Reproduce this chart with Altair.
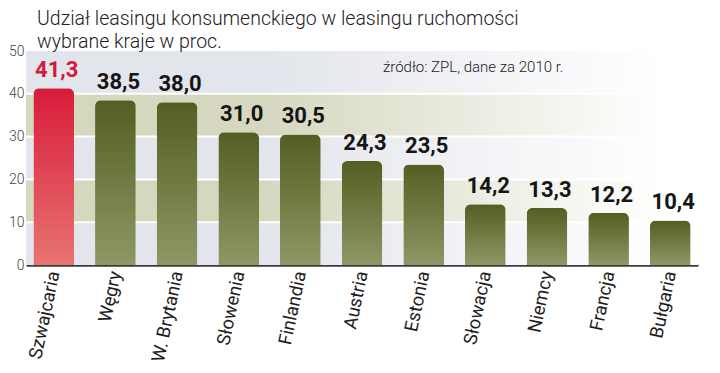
import altair as alt
import pandas as pd

categories = ["Szwajcaria", "Węgry", "W. Brytania", "Słowenia", "Finlandia", "Austria",
              "Estonia", "Słowacja", "Niemcy", "Francja", "Bułgaria"]
values = [41.3, 38.5, 38.0, 31.0, 30.5, 24.3, 23.5, 14.2, 13.3, 12.2, 10.4]
value_labels = ["41,3", "38,5", "38,0", "31,0", "30,5", "24,3", "23,5", "14,2", "13,3", "12,2", "10,4"]
highlight = [True, False, False, False, False, False, False, False, False, False, False]

band_starts_grey = [0, 20, 40]
band_starts_beige = [10, 30]
grid_values = [10, 20, 30, 40]

title_line1 = "Udział leasingu konsumenckiego w leasingu ruchomości"
title_line2 = "wybrane kraje w proc."
source_text = "źródło: ZPL, dane za 2010 r."

W, H = 672, 214

df = pd.DataFrame({"kraj": categories, "v": values, "lab": value_labels, "hl": highlight})
grey_df = pd.DataFrame({"y0": band_starts_grey, "y1": [b + 10 for b in band_starts_grey]})
beige_df = pd.DataFrame({"y0": band_starts_beige, "y1": [b + 10 for b in band_starts_beige]})
grid_df = pd.DataFrame({"g": grid_values})

yscale = alt.Scale(domain=[0, 50], nice=False)
xenc = alt.X("kraj:N", sort=categories, scale=alt.Scale(paddingInner=0.34, paddingOuter=0.12),
             axis=alt.Axis(title=None, labelAngle=-78, labelAlign="right", labelBaseline="middle",
                           labelFontSize=18.5, labelFont="Roboto", labelFontWeight=400,
                           labelColor="#1e1e1e", labelPadding=6, ticks=False,
                           domainColor="#3c3c3c", domainWidth=2.5))


def band_layer(d, color):
    return alt.Chart(d).mark_rect(
        fill=alt.Gradient(gradient="linear", x1=0, x2=1, y1=0, y2=0,
                          stops=[alt.GradientStop(color=color, offset=0),
                                 alt.GradientStop(color=color, offset=0.35),
                                 alt.GradientStop(color="#ffffff", offset=0.95)])
    ).encode(
        y=alt.Y("y1:Q", scale=yscale), y2="y0:Q",
        x=alt.value(0), x2=alt.value(W)
    )


grey = band_layer(grey_df, "#e2e5eb")
beige = band_layer(beige_df, "#d5d7bf")

grid = alt.Chart(grid_df).mark_rule(color="white", strokeWidth=2).encode(
    y=alt.Y("g:Q", scale=yscale), x=alt.value(0), x2=alt.value(W)
)

bar_common = dict(cornerRadiusTopLeft=6, cornerRadiusTopRight=6)
olive = alt.Chart(df).transform_filter("!datum.hl").mark_bar(
    fill=alt.Gradient(gradient="linear", x1=0, x2=0, y1=0, y2=1,
                      stops=[alt.GradientStop(color="#525e22", offset=0),
                             alt.GradientStop(color="#8e9866", offset=1)]),
    **bar_common
).encode(
    x=xenc,
    y=alt.Y("v:Q", scale=yscale,
            axis=alt.Axis(title=None, values=[0, 10, 20, 30, 40, 50], grid=False, ticks=False,
                          domain=False, labelFontSize=14, labelFont="Roboto", labelFontWeight=300,
                          labelColor="#444444", labelPadding=2))
)
red = alt.Chart(df).transform_filter("datum.hl").mark_bar(
    fill=alt.Gradient(gradient="linear", x1=0, x2=0, y1=0, y2=1,
                      stops=[alt.GradientStop(color="#d81b3b", offset=0),
                             alt.GradientStop(color="#e87470", offset=1)]),
    **bar_common
).encode(x=xenc, y=alt.Y("v:Q", scale=yscale))

labels = alt.Chart(df).mark_text(
    baseline="bottom", dy=-6, dx=3, fontSize=22, fontWeight="bold", font="Roboto"
).encode(
    x=xenc, y=alt.Y("v:Q", scale=yscale), text="lab:N",
    color=alt.Color("hl:N", scale=alt.Scale(domain=[True, False], range=["#d4183a", "#151515"]),
                    legend=None)
)

t1 = alt.Chart(pd.DataFrame({"t": [title_line1]})).mark_text(
    align="left", baseline="alphabetic", fontSize=19.5, font="Roboto", fontWeight=300, color="#222222"
).encode(text="t:N", x=alt.value(11), y=alt.value(-26))
t2 = alt.Chart(pd.DataFrame({"t": [title_line2]})).mark_text(
    align="left", baseline="alphabetic", fontSize=19.5, font="Roboto", fontWeight=300, color="#222222"
).encode(text="t:N", x=alt.value(11), y=alt.value(-3))
src = alt.Chart(pd.DataFrame({"t": [source_text]})).mark_text(
    align="left", baseline="alphabetic", fontSize=15, font="Roboto", fontWeight=300, color="#222222"
).encode(text="t:N", x=alt.value(357), y=alt.value(21))

chart = alt.layer(grey, beige, grid, olive, red, labels, t1, t2, src).properties(
    width=W, height=H,
    autosize=alt.AutoSizeParams(type="none"),
    padding={"left": 18, "top": 43, "right": 10, "bottom": 100},
    background="white"
).configure_view(stroke=None)

chart.save("out.html", embed_options={"renderer": "svg", "actions": False})
